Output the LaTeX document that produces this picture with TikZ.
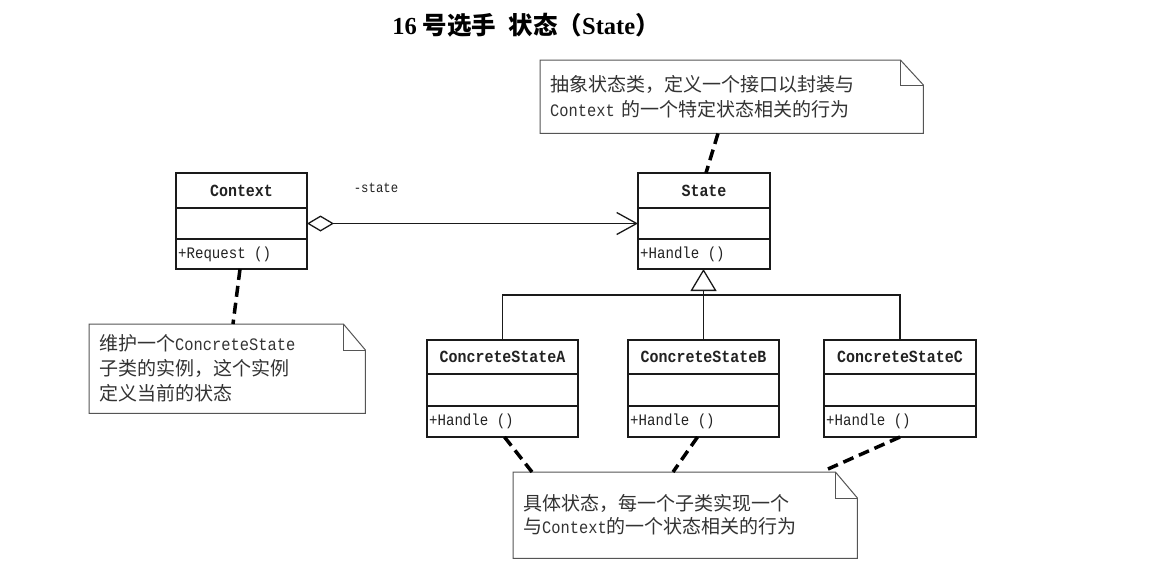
\documentclass[tikz,border=0pt]{standalone}
\usepackage{fontspec}
\setmainfont{Liberation Serif}
\newfontfamily\cjk{Noto Sans CJK SC}
\newfontfamily\mono[FakeStretch=0.88]{Liberation Mono}
\usetikzlibrary{arrows.meta,calc}
\definecolor{linec}{HTML}{1A1A1A}
\definecolor{textc}{HTML}{222222}
\definecolor{notec}{HTML}{555555}
\definecolor{notetext}{HTML}{333333}
\newcommand\lat[1]{{\mono\fontsize{17.5}{25}\selectfont #1}}
\newcommand\umlcls[9]{%
  \node[clsname, minimum width=#4pt, minimum height=#5pt, anchor=north west] (#1) at (#2,#3) {#8};
  \node[clsrow, minimum width=#4pt, minimum height=#6pt, anchor=north] (#1a) at (#1.south) {};
  \node[clsrow, minimum width=#4pt, minimum height=#7pt, anchor=north] (#1o) at (#1a.south) {};
  \node[optext] (#1t) at ([xshift=2pt]#1o.west) {#9};
}
\newcommand\notefold[3]{%
  \draw[noteline] (#1.north west) -- ([xshift=-#2pt]#1.north east) -- ([yshift=-#3pt]#1.north east) -- (#1.south east) -- (#1.south west) -- cycle;
  \draw[noteline] ([xshift=-#2pt]#1.north east) |- ([yshift=-#3pt]#1.north east);
}
\tikzset{
  clsname/.style={draw=linec, line width=1.5pt, inner sep=0pt, outer sep=0pt, font=\mono\bfseries\fontsize{17}{20}\selectfont, text=textc},
  clsrow/.style={draw=linec, line width=1.5pt, inner sep=0pt, outer sep=0pt},
  optext/.style={anchor=west, inner sep=0pt, font=\mono\fontsize{16}{19}\selectfont, text=textc},
  notebox/.style={inner xsep=10pt, inner ysep=0pt, align=left, anchor=north west, font=\cjk\fontsize{19}{25}\selectfont, text=notetext},
  noteline/.style={draw=notec, line width=1pt},
  notelink/.style={draw=black, line width=3.5pt, dash pattern=on 11pt off 6pt},
  agg/.style={draw=linec, line width=1.2pt, {Diamond[open,length=27pt,width=16pt,line width=1.3pt]}-{Straight Barb[length=20pt,width=22pt,line width=1.3pt]}},
  gen/.style={draw=linec, line width=1.2pt},
}
\begin{document}
\begin{tikzpicture}[x=1pt,y=-1pt]
\useasboundingbox (0,0) rectangle (1156,571);
\fill[white] (0,0) rectangle (1156,571);

% title
\node[inner sep=0pt, text=black] (title) at (526,25) {\fontsize{24.5}{27}\selectfont\bfseries 16 {\cjk 号选手}\enspace{\cjk 状态（}State{\cjk ）}};

% classes
\umlcls{ctx}{176}{173}{131}{35}{31}{30}{Context}{+Request ()}
\umlcls{sta}{638}{173}{132}{35}{31}{30}{State}{+Handle ()}
\umlcls{csa}{427}{340}{151}{34}{32}{31}{ConcreteStateA}{+Handle ()}
\umlcls{csb}{628}{340}{151}{34}{32}{31}{ConcreteStateB}{+Handle ()}
\umlcls{csc}{824}{340}{152}{34}{32}{31}{ConcreteStateC}{+Handle ()}

% aggregation
\draw[agg] (ctxa.east) -- (staa.west);
\node[inner sep=0pt, font=\mono\fontsize{14}{16}\selectfont, text=textc] (lbl) at (376,188) {-state};

% generalization
\coordinate (j) at (704,295);
\draw[gen] (csa.north) |- (j) -| (csc.north);
\draw[gen, -{Triangle[open,length=22pt,width=26pt,line width=1.3pt]}] (csb.north) -- (csb.north |- stao.south);

% notes
\node[notebox, text width=363pt, minimum height=73pt] (n1) at (540,60)
  {抽象状态类，定义一个接口以封装与\\\lat{Context} 的一个特定状态相关的行为};
\notefold{n1}{23}{25}
\node[notebox, text width=256pt, minimum height=89pt] (n2) at (89,324)
  {维护一个\lat{ConcreteState}\\子类的实例，这个实例\\定义当前的状态};
\notefold{n2}{22}{26}
\node[notebox, text width=324pt, minimum height=86pt, font=\cjk\fontsize{19}{23}\selectfont] (n3) at (513,472)
  {具体状态，每一个子类实现一个\\与\lat{Context}的一个状态相关的行为};
\notefold{n3}{22}{26}

% note links
\draw[notelink] ($(n1.south west)+(178,0)$) -- ($(sta.north)+(2,0)$);
\draw[notelink] ($(ctxo.south)+(-1.5,0)$) -- ($(n2.north west)+(144,0)$);
\draw[notelink] ($(csao.south)+(2,0)$) -- ($(n3.north west)+(19,0)$);
\draw[notelink] ($(csbo.south)+(-6,0)$) -- ($(n3.north west)+(160,0)$);
\draw[notelink] (csco.south) -- ($(n3.north west)+(315,-3)$);
\end{tikzpicture}
\end{document}
